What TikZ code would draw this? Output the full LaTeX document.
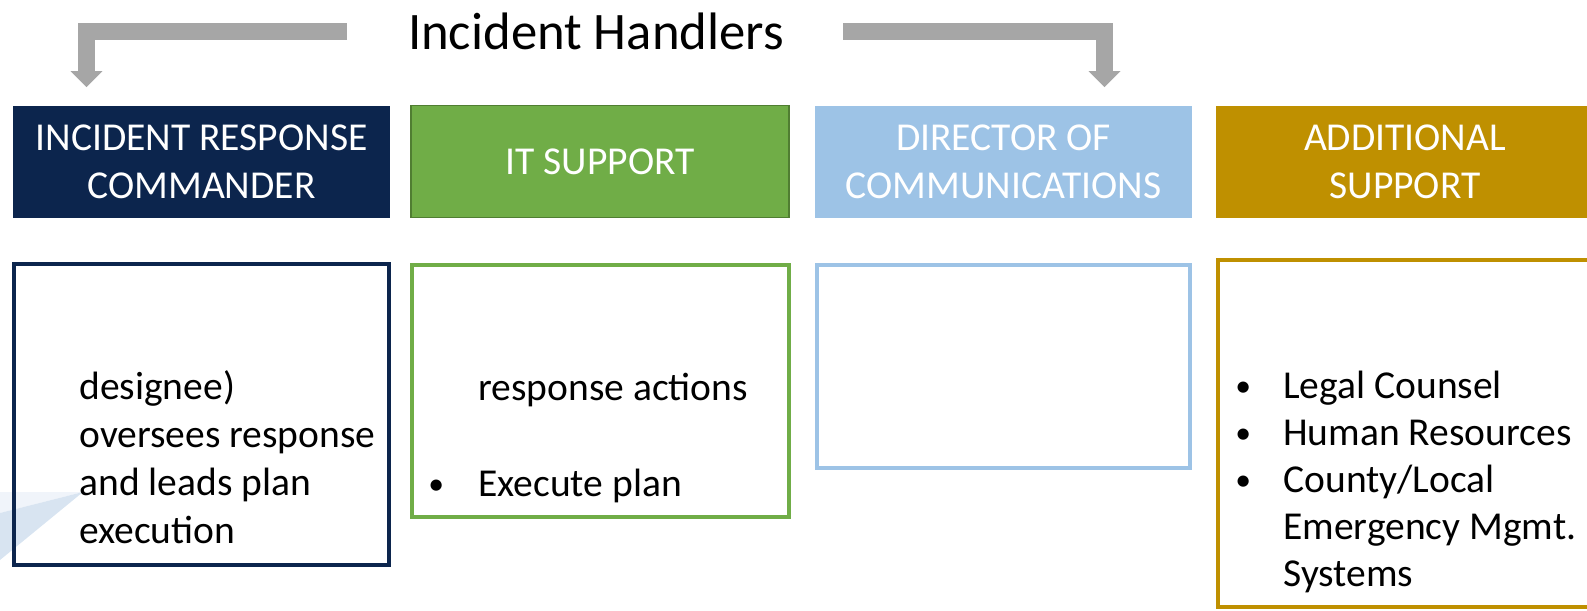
\documentclass[tikz,border=0pt]{standalone}
\usepackage{fontspec}
\setmainfont{Carlito}
\usetikzlibrary{arrows.meta,positioning}
\definecolor{navyblue}{RGB}{12,37,77}
\definecolor{itgreen}{RGB}{112,173,71}
\definecolor{itgreendark}{RGB}{80,126,50}
\definecolor{commblue}{RGB}{157,195,230}
\definecolor{addgold}{RGB}{191,144,0}
\definecolor{arrowgray}{RGB}{166,166,166}
\definecolor{wedgefaint}{RGB}{240,244,250}
\definecolor{wedgeblue}{RGB}{216,228,241}
\tikzset{
  headbox/.style={rectangle, minimum width=7.56cm, minimum height=2.24cm, inner sep=0pt, outer sep=0pt, text=white, align=center, font=\fontsize{22.5pt}{27.5pt}\selectfont},
  lowbox/.style={rectangle, line width=0.08cm, inner sep=0pt, outer sep=0pt},
  bodytext/.style={anchor=base west, inner sep=0pt, font=\fontsize{22.5pt}{27pt}\selectfont},
  bulletmark/.style={anchor=base west, inner sep=0pt, font=\fontsize{18pt}{27pt}\selectfont},
  handarrow/.style={draw=arrowgray, line width=0.34cm, -{Triangle[width=0.64cm,length=0.32cm,line width=0pt]}}
}
\begin{document}
\begin{tikzpicture}[x=0.02cm, y=-0.02cm]
\useasboundingbox (0,0) rectangle (1587,610);
% faint wedge behind the first box
\fill[wedgefaint] (0,492) -- (83,492) -- (0,513) -- cycle;
\fill[wedgeblue] (0,513) -- (83,492) -- (0,560) -- cycle;

\node[font=\fontsize{30pt}{36pt}\selectfont, anchor=base, inner sep=0pt] (title) at (596,49) {Incident Handlers};

\node[headbox, fill=navyblue] (cmdhead) at (201.5,162) {INCIDENT RESPONSE\\COMMANDER};
\node[headbox, fill=itgreen, draw=itgreendark, line width=0.8pt] (ithead) at (600,161.5) {IT SUPPORT};
\node[headbox, fill=commblue] (commhead) at (1003.5,162) {DIRECTOR OF\\COMMUNICATIONS};
\node[headbox, fill=addgold] (addhead) at (1405,162) {ADDITIONAL\\SUPPORT};

\node[lowbox, draw=navyblue, minimum width=7.5cm, minimum height=6.02cm] (cmdbox) at (201.5,414.5) {};
\node[lowbox, draw=itgreen, minimum width=7.54cm, minimum height=5.04cm] (itbox) at (600.5,391) {};
\node[lowbox, draw=commblue, minimum width=7.46cm, minimum height=4.06cm] (commbox) at (1003.5,366.5) {};
\node[lowbox, draw=addgold, minimum width=7.48cm, minimum height=6.94cm] (addbox) at (1405,433.5) {};

\foreach \txt [count=\i] in {designee), oversees response, and leads plan, execution}
  \node[bodytext] (cmdline\i) at (79,351+48*\i) {\txt};

\node[bodytext] (itline1) at (478,400) {response actions};
\node[bulletmark] (itbullet) at (428,494) {•};
\node[bodytext] (itline2) at (478,496) {Execute plan};

\foreach \txt [count=\i] in {Legal Counsel, Human Resources, County/Local, Emergency Mgmt., Systems}
  \node[bodytext] (addline\i) at (1283,350.8+47.2*\i) {\txt};
\foreach \i in {1,2,3}
  \node[bulletmark] (addbullet\i) at (1235,348.8+47.2*\i) {•};

% arrows from the title down to the outer columns
\coordinate (lfrom) at (347,31.5);
\coordinate (lto) at (86.5,87);
\coordinate (rfrom) at (843,31.5);
\coordinate (rto) at (1104.5,87);
\draw[handarrow] (lfrom) -| (lto);
\draw[handarrow] (rfrom) -| (rto);
\end{tikzpicture}
\end{document}
